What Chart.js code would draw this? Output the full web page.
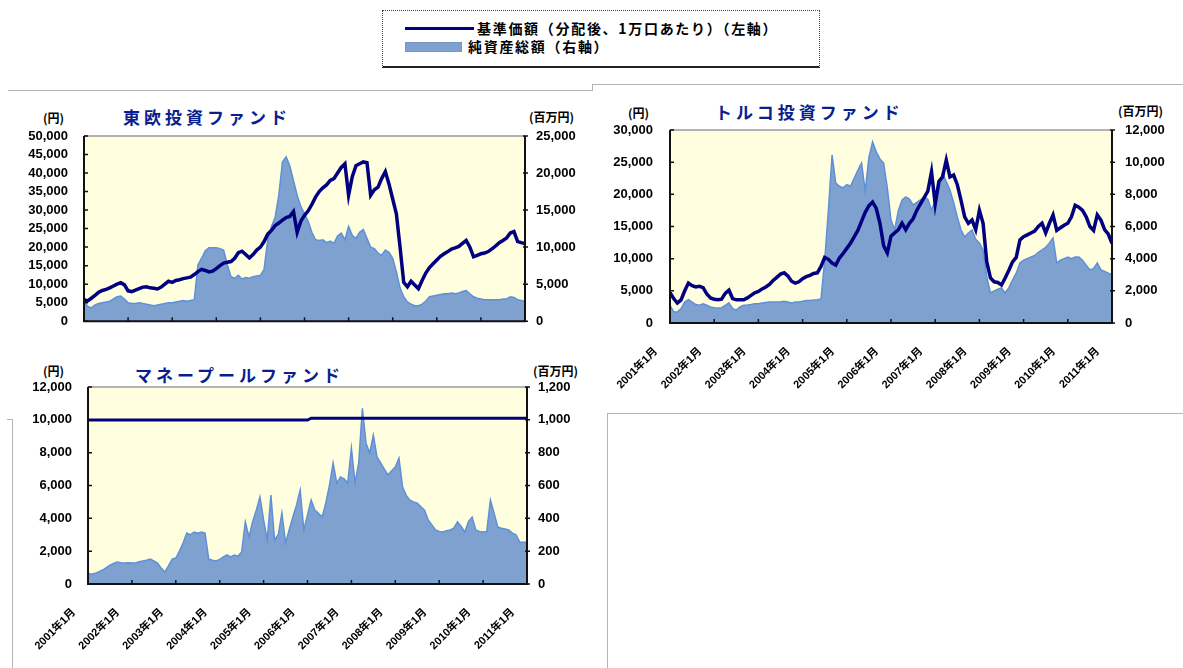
<!DOCTYPE html>
<html lang="ja">
<head>
<meta charset="utf-8">
<title>ファンド 基準価額と純資産総額</title>
<script src="https://cdn.jsdelivr.net/npm/chart.js@4.4.1/dist/chart.umd.min.js"></script>
<style>
  body { margin:0; background:#fff; width:1183px; height:668px; position:relative; overflow:hidden;
         font-family:'Noto Sans CJK JP', sans-serif; }
  .abs { position:absolute; }
  .rule { position:absolute; background:#b4b4b4; }
  .title { position:absolute; color:#0a1f8f; font-weight:bold; font-size:17px; letter-spacing:4px;
           white-space:nowrap; line-height:1; }
  .unit { position:absolute; font-size:12px; font-weight:bold; color:#000; white-space:nowrap; line-height:1; }
  .legtext { position:absolute; font-size:14px; font-weight:bold; letter-spacing:1.7px; color:#000;
             white-space:nowrap; line-height:1; }
  canvas { position:absolute; }
</style>
</head>
<body>

<!-- legend -->
<div class="abs" style="left:382px;top:10px;width:436px;height:55px;border:1px dotted #444;border-bottom:2px solid #222;"></div>
<div class="abs" style="left:405px;top:27px;width:69px;height:3px;background:#000080;"></div>
<div class="legtext" style="left:477px;top:21px;">基準価額（分配後、1万口あたり）（左軸）</div>
<div class="abs" style="left:405px;top:42px;width:55px;height:8px;background:#7fa1d0;border:1px dotted #5e90d8;"></div>
<div class="legtext" style="left:468px;top:39px;">純資産総額（右軸）</div>

<!-- frame lines -->
<div class="rule" style="left:8px;top:90px;width:584px;height:1px;"></div>
<div class="rule" style="left:592px;top:84px;width:1px;height:7px;"></div>
<div class="rule" style="left:592px;top:84px;width:591px;height:1px;"></div>
<div class="rule" style="left:12px;top:419px;width:1px;height:249px;"></div>
<div class="rule" style="left:7px;top:419px;width:5px;height:1px;"></div>
<div class="rule" style="left:607px;top:413px;width:576px;height:1px;"></div>
<div class="rule" style="left:607px;top:413px;width:1px;height:255px;"></div>

<!-- titles and units -->
<div class="title" style="left:123px;top:108px;">東欧投資ファンド</div>
<div class="unit" style="left:43px;top:112px;">(円)</div>
<div class="unit" style="left:529px;top:111px;">(百万円)</div>

<div class="title" style="left:715px;top:103px;">トルコ投資ファンド</div>
<div class="unit" style="left:628px;top:107px;">(円)</div>
<div class="unit" style="left:1118px;top:105px;">(百万円)</div>

<div class="title" style="left:135px;top:366px;">マネープールファンド</div>
<div class="unit" style="left:43px;top:365px;">(円)</div>
<div class="unit" style="left:533px;top:365px;">(百万円)</div>

<canvas id="eastern" width="600" height="245" style="left:0px;top:100px;"></canvas>
<canvas id="turkey" width="583" height="300" style="left:600px;top:100px;"></canvas>
<canvas id="money" width="600" height="318" style="left:0px;top:350px;"></canvas>

<script>
// x axis: monthly points, 2001年1月 .. 2011年1月 (index 0..120)
const yearLabels = ['2001年1月','2002年1月','2003年1月','2004年1月','2005年1月','2006年1月',
                    '2007年1月','2008年1月','2009年1月','2010年1月','2011年1月'];
const seriesNames = ['基準価額（分配後、1万口あたり）（左軸）', '純資産総額（右軸）'];

// 東欧投資ファンド
const easternNav = [
  5800, 5500, 6200, 7000, 7800, 8300, 8600, 9000, 9500, 10000, 10400, 9800,
  8200, 8000, 8400, 8800, 9200, 9300, 9000, 8900, 8700, 9200, 10000, 10800,
  10500, 11000, 11200, 11500, 11700, 11900, 12600, 13400, 14000, 13700, 13300, 13500,
  14200, 15000, 15700, 15900, 16100, 17000, 18500, 18900, 18000, 17100, 18000, 19200,
  20000, 21500, 23500, 24500, 25800, 26500, 27300, 28000, 28300, 29600, 24000, 27000,
  28600, 29800, 31500, 33500, 35000, 36000, 36800, 38000, 38500, 40000, 41500, 42500,
  34000, 39000, 42000, 42500, 43000, 42800, 34000, 35500, 36200, 38500, 40400, 37000,
  33000, 29000, 20000, 10500, 9300, 10800, 9800, 8800, 11000, 13000, 14500, 15500,
  16500, 17500, 18200, 18800, 19500, 19800, 20200, 21000, 21800, 20000, 17400, 17800,
  18200, 18400, 18800, 19500, 20300, 21200, 21800, 22500, 23800, 24200, 21500, 21200,
  21000
];
const easternAssets = [
  2700, 2000, 1800, 2200, 2400, 2500, 2600, 2700, 3000, 3300, 3400, 3000,
  2500, 2400, 2400, 2500, 2400, 2300, 2200, 2100, 2200, 2300, 2400, 2500,
  2500, 2600, 2700, 2800, 2700, 2800, 2900, 7600, 8500, 9500, 9900, 9900,
  9900, 9800, 9600, 7600, 6000, 5800, 6200, 5700, 5900, 5800, 6000, 6100,
  6200, 7000, 11000, 12800, 14000, 17000, 21500, 22200, 21000, 19000, 17000, 15500,
  14500, 13500, 12000, 11000, 10900, 11000, 10600, 10800, 10500, 11500, 11900, 11000,
  12800, 11600, 11200, 12000, 12400, 11200, 10000, 9800, 9200, 8900, 9600, 9300,
  8500, 6700, 4500, 3300, 2600, 2300, 2100, 2100, 2300, 2700, 3300, 3400,
  3500, 3600, 3700, 3700, 3800, 3700, 3800, 4000, 4140, 3700, 3300, 3100,
  3000, 2900, 2900, 2900, 2900, 2900, 3000, 3000, 3300, 3200, 2900, 2800,
  2700
];

// トルコ投資ファンド
const turkeyNav = [
  4700, 3800, 3100, 3600, 5000, 6200, 5800, 5600, 5700, 5500, 4500, 3900,
  3700, 3600, 3700, 4600, 5100, 3800, 3600, 3600, 3600, 3900, 4300, 4700,
  4900, 5300, 5600, 6000, 6600, 7100, 7600, 7800, 7300, 6500, 6200, 6400,
  6900, 7200, 7400, 7700, 7800, 8800, 10200, 9900, 9300, 9000, 10100, 10800,
  11600, 12400, 13400, 14400, 15800, 17200, 18200, 18800, 17800, 15500, 12000, 10900,
  13500, 14000, 14500, 15500, 14500, 15500, 16200, 17500, 18500, 19500, 20500, 23500,
  18500, 22000, 22700, 25300, 22700, 23000, 21500, 19100, 16500, 15500, 16000, 14500,
  17500, 15500, 9500, 7000, 6400, 6300, 5900, 7000, 8200, 9500, 10200, 12900,
  13400, 13700, 14000, 14300, 15000, 15500, 14000, 15500, 16800, 14400, 14800, 15200,
  15500, 16500, 18300, 18000, 17500, 16500, 15000, 14400, 16800, 16000, 14500, 13800,
  12400
];
const turkeyAssets = [
  1100, 700, 680, 900, 1300, 1450, 1300, 1150, 1100, 1200, 1100, 1000,
  950, 930, 950, 1100, 1250, 900, 800, 1000, 1100, 1120, 1150, 1200,
  1200, 1250, 1280, 1300, 1300, 1300, 1320, 1350, 1300, 1250, 1300, 1300,
  1350, 1400, 1400, 1430, 1450, 1500, 3900, 7000, 10450, 8700, 8500, 8400,
  8600, 8500, 9000, 9500, 9950, 8200, 10300, 11260, 10640, 10200, 9950, 8400,
  6400, 5800, 7000, 7650, 7840, 7700, 7340, 7500, 7650, 7840, 7700, 7030,
  7600, 8270, 9330, 8800, 8270, 7500, 6590, 5800, 5350, 5600, 5790, 5200,
  4980, 4540, 2860, 1870, 2000, 2100, 2180, 1870, 2200, 2670, 3100, 3730,
  3900, 4000, 4100, 4200, 4400, 4540, 4700, 4980, 5290, 3730, 3900, 4000,
  4100, 4000, 4100, 4100, 3900, 3600, 3300, 3400, 3730, 3300, 3200, 3100,
  3000
];

// マネープールファンド
const moneyNav = [
  9990, 9990, 9990, 9990, 9990, 9990, 9990, 9990, 9990, 9990, 9990, 9990,
  9990, 9990, 9990, 9990, 9990, 9990, 9990, 9990, 9990, 9990, 9990, 9990,
  9990, 9990, 9990, 9990, 9990, 9990, 9990, 9990, 9990, 9990, 9990, 9990,
  9990, 9990, 9990, 9990, 9990, 9990, 9990, 9990, 9990, 9990, 9990, 9990,
  9990, 9990, 9990, 9990, 9990, 9990, 9990, 9990, 9990, 9990, 9990, 9990,
  9990, 10100, 10100, 10100, 10100, 10100, 10100, 10100, 10100, 10100, 10100, 10100,
  10100, 10100, 10100, 10100, 10100, 10100, 10100, 10100, 10100, 10100, 10100, 10100,
  10100, 10100, 10100, 10100, 10100, 10100, 10100, 10100, 10100, 10100, 10100, 10100,
  10100, 10100, 10100, 10100, 10100, 10100, 10100, 10100, 10100, 10100, 10100, 10100,
  10100, 10100, 10100, 10100, 10100, 10100, 10100, 10100, 10100, 10100, 10100, 10100,
  10100
];
const moneyAssets = [
  65, 60, 65, 75, 85, 100, 115, 125, 134, 130, 128, 130,
  128, 128, 135, 140, 145, 152, 140, 128, 97, 73, 110, 152,
  158, 200, 250, 310, 300, 317, 310, 317, 310, 152, 145, 140,
  150, 165, 177, 165, 177, 170, 195, 378, 286, 380, 450, 530,
  390, 268, 542, 268, 300, 432, 250, 330, 408, 480, 572, 329,
  420, 511, 450, 430, 408, 493, 600, 737, 615, 652, 640, 615,
  828, 615, 737, 1070, 858, 798, 907, 774, 737, 700, 664, 690,
  713, 767, 591, 540, 511, 500, 493, 470, 450, 390, 360, 329,
  320, 317, 325, 329, 340, 378, 350, 317, 380, 408, 329, 320,
  317, 320, 511, 432, 347, 340, 335, 329, 310, 300, 255, 255,
  255
];

const numFont = { family: "'Liberation Sans', Arial, sans-serif", size: 13, weight: 'bold' };
const dateFont = { family: "'Liberation Sans', 'Noto Sans CJK JP', sans-serif", size: 11, weight: 'bold' };
const fmt = v => v.toLocaleString('en-US');
const pts = arr => arr.map((v, i) => ({ x: i, y: v }));

// plot background, frame and inward tick marks
const frame = {
  id: 'frame',
  beforeDraw(chart) {
    const { ctx, chartArea: a } = chart;
    ctx.save();
    ctx.fillStyle = '#ffffe0';
    ctx.fillRect(a.left, a.top, a.right - a.left, a.bottom - a.top);
    ctx.restore();
  },
  afterDatasetsDraw(chart) {
    const { ctx, chartArea: a, scales } = chart;
    ctx.save();
    ctx.strokeStyle = '#9a9a9a';
    ctx.lineWidth = 1.5;
    ctx.beginPath(); ctx.moveTo(a.left, a.top); ctx.lineTo(a.right, a.top); ctx.stroke();
    ctx.strokeStyle = '#111';
    ctx.lineWidth = 2;
    ctx.beginPath();
    ctx.moveTo(a.left, a.top); ctx.lineTo(a.left, a.bottom);
    ctx.lineTo(a.right, a.bottom); ctx.lineTo(a.right, a.top);
    ctx.stroke();
    ctx.lineWidth = 1.5;
    ctx.beginPath();
    scales.y.ticks.forEach(t => {
      const y = scales.y.getPixelForValue(t.value);
      ctx.moveTo(a.left, y); ctx.lineTo(a.left + 4, y);
    });
    scales.y1.ticks.forEach(t => {
      const y = scales.y1.getPixelForValue(t.value);
      ctx.moveTo(a.right - 2, y); ctx.lineTo(a.right + 3, y);
    });
    scales.x.ticks.forEach(t => {
      const x = scales.x.getPixelForValue(t.value);
      ctx.moveTo(x, a.bottom); ctx.lineTo(x, a.bottom - 4);
    });
    ctx.stroke();
    ctx.restore();
  }
};

function makeChart(id, o) {
  return new Chart(document.getElementById(id), {
    type: 'line',
    data: {
      datasets: [
        { label: seriesNames[0], data: pts(o.nav), yAxisID: 'y', borderColor: '#000080',
          borderWidth: o.lineWidth, pointRadius: 0, fill: false, tension: 0 },
        { label: seriesNames[1], data: pts(o.assets), yAxisID: 'y1', borderColor: '#5e90d8',
          borderWidth: 1.5, backgroundColor: '#7fa1d0', fill: 'origin', pointRadius: 0, tension: 0 }
      ]
    },
    options: {
      responsive: false,
      animation: false,
      events: [],
      layout: { padding: { top: o.top, left: 0, right: 0, bottom: 0 } },
      plugins: { legend: { display: false }, tooltip: { enabled: false } },
      scales: {
        x: {
          type: 'linear', min: 0, max: 120,
          grid: { display: false, drawTicks: false }, border: { display: false },
          ticks: { stepSize: 12, display: o.showDates, autoSkip: false, minRotation: 45, maxRotation: 45,
                   padding: 22, labelOffset: -14, font: dateFont, color: '#000',
                   callback: v => yearLabels[v / 12] },
          afterFit: s => { s.height = o.xHeight; }
        },
        y: {
          position: 'left', min: 0, max: o.yMax,
          grid: { display: false, drawTicks: false }, border: { display: false },
          ticks: { stepSize: o.yStep, padding: o.leftPad, font: numFont, color: '#000', callback: fmt },
          afterFit: s => { s.width = o.leftWidth; }
        },
        y1: {
          position: 'right', min: 0, max: o.y1Max,
          grid: { display: false, drawTicks: false }, border: { display: false },
          ticks: { stepSize: o.y1Step, padding: o.rightPad, font: numFont, color: '#000', callback: fmt },
          afterFit: s => { s.width = o.rightWidth; }
        }
      }
    },
    plugins: [frame]
  });
}

makeChart('eastern', {
  nav: easternNav, assets: easternAssets, lineWidth: 3.5,
  yMax: 50000, yStep: 5000, y1Max: 25000, y1Step: 5000,
  top: 36, xHeight: 16, showDates: false,
  leftWidth: 84, rightWidth: 75, leftPad: 16, rightPad: 11
});
makeChart('turkey', {
  nav: turkeyNav, assets: turkeyAssets, lineWidth: 3.5,
  yMax: 30000, yStep: 5000, y1Max: 12000, y1Step: 2000,
  top: 30, xHeight: 77, showDates: true,
  leftWidth: 70, rightWidth: 71, leftPad: 17, rightPad: 13
});
makeChart('money', {
  nav: moneyNav, assets: moneyAssets, lineWidth: 3,
  yMax: 12000, yStep: 2000, y1Max: 1200, y1Step: 200,
  top: 37, xHeight: 84, showDates: true,
  leftWidth: 88, rightWidth: 73, leftPad: 16, rightPad: 11
});
</script>
</body>
</html>
